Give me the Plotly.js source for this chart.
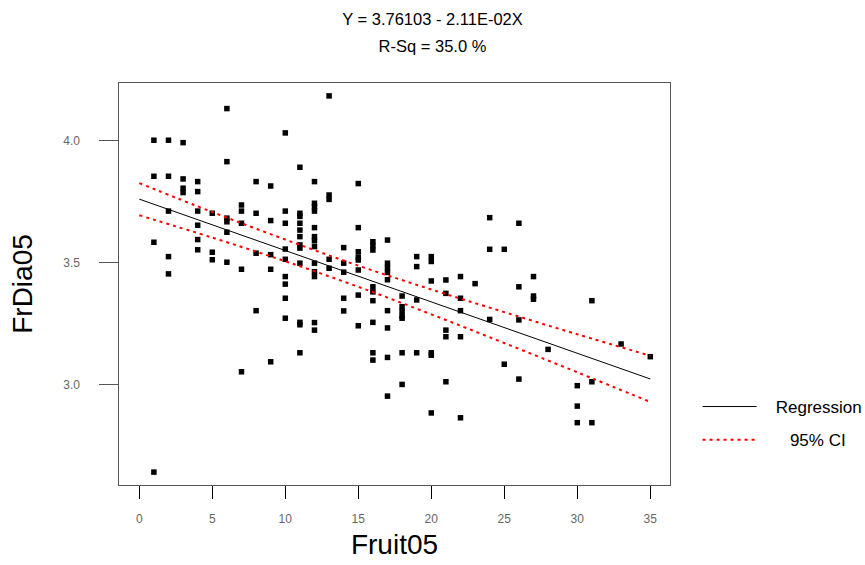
<!DOCTYPE html>
<html>
<head>
<meta charset="utf-8">
<script src="https://cdn.plot.ly/plotly-3.0.1.min.js"></script>
<style>html,body{margin:0;padding:0;background:#fff;}#chart{width:865px;height:565px;}</style>
</head>
<body>
<div id="chart"></div>
<script>
// Observations (Fruit05, FrDia05)
const fruit05 = [
  1,1,1,1,
  2,2,2,2,2,
  3,3,3,3,
  4,4,4,4,4,4,
  5,5,5,
  6,6,6,6,6,6,
  7,7,7,7,7,
  8,8,8,8,
  9,9,9,9,9,
  10,10,10,10,10,10,10,10,10,
  11,11,11,11,11,11,11,11,11,11,11,11,
  12,12,12,12,12,12,12,12,12,12,12,12,12,
  13,13,13,13,13,
  14,14,14,14,14,
  15,15,15,15,15,15,15,15,
  16,16,16,16,16,16,16,16,16,
  17,17,17,17,17,17,17,17,17,
  18,18,18,18,18,18,18,
  19,19,19,19,
  20,20,20,20,20,20,
  21,21,21,21,21,
  22,22,22,22,22,
  23,
  24,24,24,
  25,25,
  26,26,26,26,
  27,27,27,
  28,
  30,30,30,
  31,31,31,
  33,
  35
];
const frDia05 = [
  4.003,3.855,3.584,2.64,
  4.003,3.855,3.712,3.525,3.454,
  3.993,3.844,3.806,3.788,
  3.833,3.792,3.712,3.654,3.595,3.553,
  3.703,3.543,3.512,
  4.133,3.915,3.683,3.668,3.625,3.502,
  3.737,3.712,3.662,3.473,3.052,
  3.833,3.703,3.539,3.303,
  3.815,3.673,3.533,3.473,3.093,
  4.033,3.712,3.662,3.556,3.514,3.443,3.412,3.354,3.272,
  3.892,3.703,3.69,3.662,3.634,3.607,3.573,3.56,3.498,3.255,3.245,3.13,
  3.833,3.744,3.73,3.712,3.644,3.607,3.59,3.566,3.498,3.463,3.443,3.254,3.223,
  4.185,3.778,3.76,3.514,3.477,
  3.562,3.498,3.461,3.354,3.302,
  3.825,3.644,3.545,3.523,3.511,3.47,3.367,3.241,
  3.586,3.57,3.552,3.401,3.38,3.344,3.255,3.13,3.10,
  3.593,3.498,3.48,3.46,3.43,3.303,3.232,3.111,2.952,
  3.363,3.319,3.30,3.28,3.272,3.13,3.0,
  3.525,3.484,3.347,3.13,
  3.525,3.505,3.425,3.13,3.12,2.883,
  3.429,3.374,3.223,3.196,3.011,
  3.443,3.354,3.303,3.196,2.863,
  3.414,
  3.685,3.555,3.267,
  3.555,3.083,
  3.662,3.401,3.265,3.022,
  3.443,3.363,3.35,
  3.144,
  2.995,2.911,2.843,
  3.344,3.011,2.843,
  3.166,
  3.114
];
// Fitted line (read at its ends)
const regX = [0, 35];
const regY = [3.761, 3.0225];
// 95% confidence band
const ciX = [0, 5, 10, 15, 20, 25, 30, 35];
const ciUpper = [3.827, 3.708, 3.595, 3.488, 3.390, 3.297, 3.206, 3.118];
const ciLower = [3.695, 3.603, 3.506, 3.401, 3.288, 3.170, 3.050, 2.928];
const xTicks = [0, 5, 10, 15, 20, 25, 30, 35];
const yTicks = [3.0, 3.5, 4.0];
const yTickText = ['3.0', '3.5', '4.0'];

const pad = '\u00a0'.repeat(5);
const ciLine = {color: '#ff0000', width: 2, dash: '3px,4px', shape: 'spline'};
const traces = [
  {x: fruit05, y: frDia05, type: 'scatter', mode: 'markers', showlegend: false,
   marker: {symbol: 'square', size: 5.5, color: '#000'}, hoverinfo: 'x+y'},
  {x: regX, y: regY, type: 'scatter', mode: 'lines', name: '\u00a0\u00a0\u00a0Regression', legendgroup: 'a',
   line: {color: '#000', width: 1}},
  {x: ciX, y: ciUpper, type: 'scatter', mode: 'lines', name: '\u00a0\u00a0\u00a0\u00a0\u00a0\u00a095% CI', legendgroup: 'b',
   line: ciLine},
  {x: ciX, y: ciLower, type: 'scatter', mode: 'lines', name: '95% CI lower', legendgroup: 'b', showlegend: false,
   line: ciLine}
];
const layout = {
  width: 865, height: 565,
  margin: {l: 119, r: 195, t: 83, b: 80, autoexpand: false},
  paper_bgcolor: '#fff', plot_bgcolor: '#fff',
  font: {family: 'Arial, "Liberation Sans", sans-serif', color: '#000'},
  title: {text: '<span style="font-size:16.5px">Y = 3.76103 - 2.11E-02X</span><br><span style="font-size:16.5px">R-Sq = 35.0 %</span>',
          x: 0.5, xref: 'container', xanchor: 'center',
          y: 0.955, yref: 'container', yanchor: 'top', font: {size: 20.5, color: '#000'}},
  xaxis: {range: [-1.39, 36.35], tickvals: xTicks, ticks: 'outside', ticklen: 13, tickcolor: '#000', tickwidth: 1,
          showgrid: false, zeroline: false, showline: true, linecolor: '#555', linewidth: 1, mirror: true,
          ticklabelstandoff: 10, tickfont: {size: 12, color: '#666'},
          title: {text: 'Fruit05', font: {size: 28, color: '#000'}, standoff: 8}},
  yaxis: {range: [2.587, 4.238], tickvals: yTicks, ticktext: yTickText.map(t => t + pad), ticks: 'outside', ticklen: 19, tickcolor: '#555', tickwidth: 1,
          showgrid: false, zeroline: false, showline: true, linecolor: '#555', linewidth: 1, mirror: true,
          tickfont: {size: 12, color: '#666'},
          title: {text: 'FrDia05', font: {size: 28, color: '#000'}, standoff: 22}},
  showlegend: true,
  legend: {x: 1.05, xanchor: 'left', y: 0.153, yanchor: 'middle', traceorder: 'grouped', tracegroupgap: 8,
           itemwidth: 54, font: {size: 17, color: '#000'}, bgcolor: 'rgba(0,0,0,0)'}
};
Plotly.newPlot('chart', traces, layout, {displayModeBar: false, staticPlot: true});
</script>
</body>
</html>
